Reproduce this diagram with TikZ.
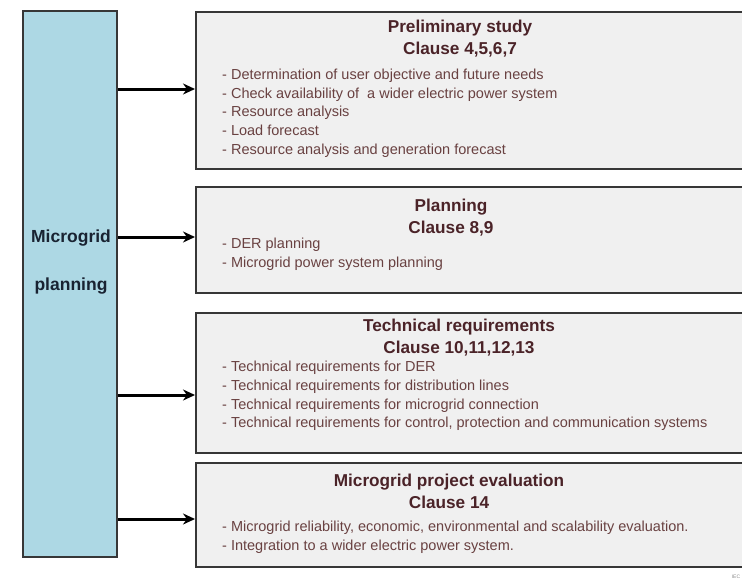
\documentclass[tikz,border=0pt]{standalone}
\usepackage{fontspec}
\setmainfont{Liberation Sans}
\usetikzlibrary{arrows.meta}
\definecolor{leftfill}{RGB}{173,216,228}
\definecolor{boxfill}{RGB}{240,240,240}
\definecolor{boxline}{RGB}{55,55,55}
\definecolor{titlecol}{RGB}{75,35,40}
\definecolor{bulletcol}{RGB}{105,65,65}
\definecolor{lefttext}{RGB}{25,35,50}
\tikzset{
  leftbox/.style={draw=boxline, line width=1.8pt, fill=leftfill, minimum width=94pt, minimum height=546pt, inner sep=0pt},
  stagebox/.style={draw=boxline, line width=2pt, fill=boxfill, minimum width=560pt, anchor=north west, inner sep=0pt},
  titletext/.style={font=\fontsize{17.2}{22}\selectfont\bfseries, text=titlecol, align=center, inner sep=0pt},
  bullettext/.style={font=\fontsize{14.5}{18.7}\selectfont, text=bulletcol, align=left, inner sep=0pt, anchor=west},
  lefttitle/.style={font=\fontsize{17.5}{48}\selectfont\bfseries, text=lefttext, align=center, inner sep=0pt},
  flowarrow/.style={draw=black, line width=3pt, -{Stealth[length=12pt,width=11pt]}}
}
\begin{document}
\begin{tikzpicture}[x=1pt,y=-1pt]
\useasboundingbox (0,0) rectangle (742,581);
\fill[white] (0,0) rectangle (742,581);

\node[leftbox] (mp) at (70,284) {};
\node[lefttitle] (mptext) at (71,262) {Microgrid\\planning};

\node[stagebox, minimum height=157pt] (b1) at (195,11) {};
\node[stagebox, minimum height=106pt] (b2) at (195,186) {};
\node[stagebox, minimum height=140pt] (b3) at (195,312) {};
\node[stagebox, minimum height=104pt] (b4) at (195,462) {};

\coordinate (s1) at (118,89);
\coordinate (s2) at (118,237);
\coordinate (s3) at (118,395);
\coordinate (s4) at (118,519);
\draw[flowarrow] (s1) -- (s1 -| b1.west);
\draw[flowarrow] (s2) -- (s2 -| b2.west);
\draw[flowarrow] (s3) -- (s3 -| b3.west);
\draw[flowarrow] (s4) -- (s4 -| b4.west);

\node[titletext] (t1) at (460,39) {Preliminary study\\Clause 4,5,6,7};
\node[bullettext] (l1) at (222,113) {- Determination of user objective and future needs\\- Check availability of\ \ a wider electric power system\\- Resource analysis\\- Load forecast\\- Resource analysis and generation forecast};

\node[titletext] (t2) at (451,218) {Planning\\Clause 8,9};
\node[bullettext] (l2) at (222,254) {- DER planning\\- Microgrid power system planning};

\node[titletext] (t3) at (459,338) {Technical requirements\\Clause 10,11,12,13};
\node[bullettext] (l3) at (222,396) {- Technical requirements for DER\\- Technical requirements for distribution lines\\- Technical requirements for microgrid connection\\- Technical requirements for control, protection and communication systems};

\node[titletext] (t4) at (449,491) {Microgrid project evaluation\\Clause 14};
\node[bullettext] (l4) at (222,537.5) {- Microgrid reliability, economic, environmental and scalability evaluation.\\- Integration to a wider electric power system.};

\node[font=\fontsize{5}{6}\selectfont, text=black!45, inner sep=0pt] (iec) at (736,577) {IEC};
\end{tikzpicture}
\end{document}
